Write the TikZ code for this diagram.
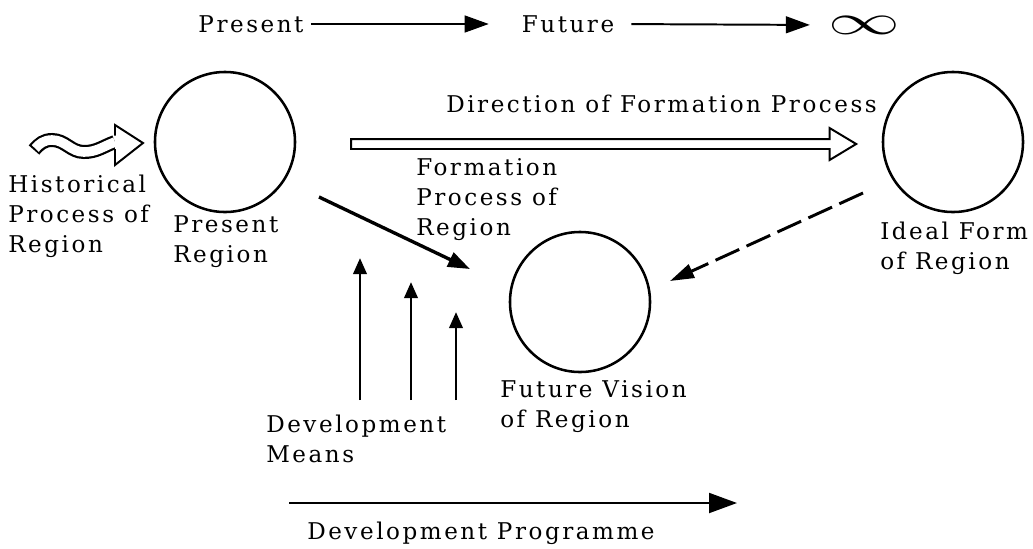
\documentclass[tikz,border=0pt]{standalone}
\usepackage{fontspec}
\setmainfont{DejaVu Serif}[LetterSpace=11]
\usetikzlibrary{positioning,calc,arrows.meta,shapes.arrows}
\tikzstyle{region} = [circle, draw, line width=1.8pt, minimum size=3.5cm, inner sep=0pt]
\tikzstyle{txt} = [align=left, inner sep=0pt, font=\fontsize{16.4}{21.3}\selectfont]
\tikzstyle{timeline} = [draw, line width=1.4pt, -{Triangle[length=0.6cm,width=0.42cm]}]
\tikzstyle{link} = [draw, line width=2.4pt, -{Triangle[length=0.55cm,width=0.38cm]}]

\begin{document}
\begin{tikzpicture}[x=0.025cm, y=-0.025cm]
    \tikzstyle{dashlink} = [draw, line width=2.1pt, dash pattern=on 0.65cm off 0.2cm,
        -{Triangle[length=0.6cm,width=0.36cm]}]
    \tikzstyle{means} = [draw, line width=2.1pt, -{Triangle[length=0.4cm,width=0.33cm]}]
    \useasboundingbox (0,0) rectangle (1033,548);

    % time axis
    \node[txt] (present) at (251,24) {Present};
    \node[txt] (future) at (568,24) {Future};
    \node[inner sep=0pt] (inf) at (864,25) {\scalebox{5.1}[3]{$\infty$}};
    \draw[timeline, shorten <=0.18cm, shorten >=0.82cm] (present.east) -- (future.west);
    \draw[timeline, shorten <=0.42cm, shorten >=0.45cm] (future.east) -- (inf.west);

    % regions
    \node[region] (pres) at (225,142) {};
    \node[region] (ideal) at (953,142) {};
    \node[region] (fut) at (580,302) {};

    \node[txt, anchor=west] (hist) at (8,216) {Historical\\Process of\\Region};
    \node[txt, anchor=west] (presname) at (173,242) {Present\\Region};
    \node[txt, anchor=west] (idealname) at (880,248) {Ideal Form\\of Region};
    \node[txt, anchor=west] (futname) at (500,407) {Future Vision\\of Region};
    \node[txt, anchor=west] (dir) at (446,104) {Direction of Formation Process};
    \node[txt, anchor=west] (formname) at (416,200) {Formation\\Process of\\Region};

    % historical process (wavy hollow arrow)
    \draw[line width=0.35cm] (34,150) to[out=50,in=180] (52,140) to[out=0,in=180] (84,152) to[out=0,in=200] (115,142);
    \draw[white, line width=0.24cm, shorten <=0.05cm] (34,150) to[out=50,in=180] (52,140) to[out=0,in=180] (84,152) to[out=0,in=200] (115,142);
    \fill[white] (115,125) -- (143,143) -- (115,165) -- cycle;
    \draw[line width=1.4pt] (115,135.5) -- (115,125) -- (143,143) -- (115,165) -- (115,149);

    % direction of formation process
    \node[single arrow, draw, line width=1.4pt, minimum height=12.625cm, minimum width=0pt,
        single arrow head extend=0.275cm, single arrow tip angle=62,
        inner xsep=0pt, inner ysep=0.1cm] (flow) at (599.5,144) {};

    \draw[link] ([shift={(94,55)}]pres.center) -- ([shift={(-110,-33)}]fut.center);
    \draw[dashlink] ([shift={(-90,51)}]ideal.center) -- ([shift={(90,-21)}]fut.center);

    % development means
    \node[txt, anchor=west] (meansname) at (266,439) {Development\\Means};
    \foreach \x/\top [count=\i] in {360/258, 411/282, 456/312} {
        \coordinate (mbot\i) at (\x,400);
        \coordinate (mtop\i) at (\x,\top);
        \draw[means] (mbot\i) -- (mtop\i);
    }

    % development programme
    \coordinate (pstart) at (289,503);
    \coordinate (pend) at (737,503);
    \draw[draw, line width=1.4pt, -{Triangle[length=0.7cm,width=0.5cm]}] (pstart) -- (pend);
    \node[txt, anchor=west] (prog) at (307,533) {Development Programme};
\end{tikzpicture}
\end{document}
